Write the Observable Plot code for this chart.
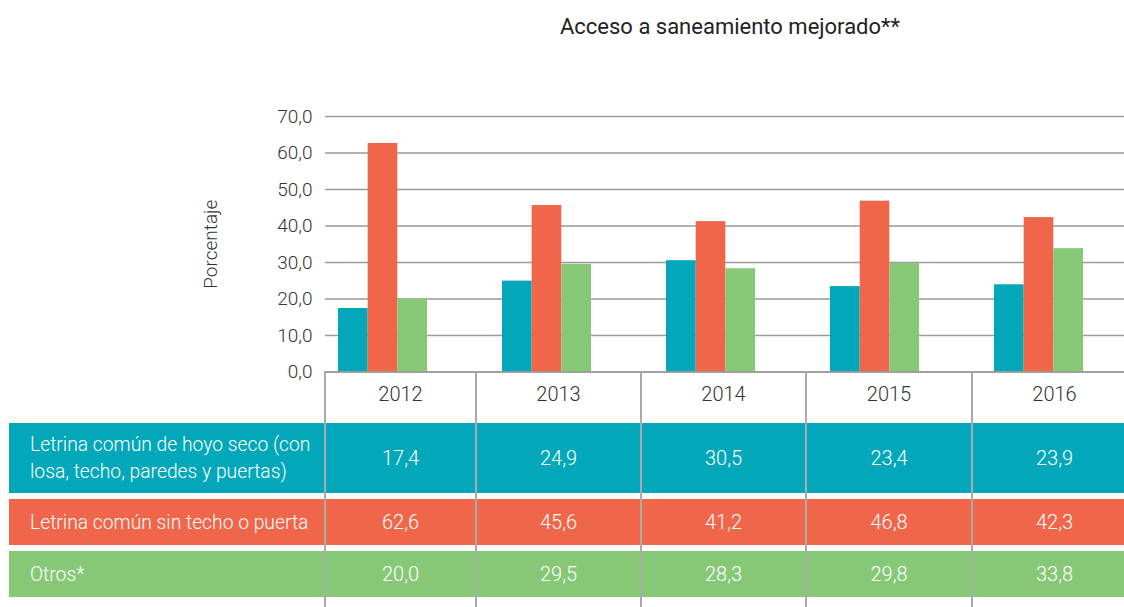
<!DOCTYPE html>
<html><head><meta charset="utf-8">
<script src="https://cdn.jsdelivr.net/npm/d3@7"></script>
<script src="https://cdn.jsdelivr.net/npm/@observablehq/plot@0.6"></script>
<style>
body{margin:0;background:#fff;font-family:Roboto,"Noto Sans",sans-serif;}
#wrap{position:relative;width:1124px;height:607px;overflow:hidden;background:#fff;}
#title{position:absolute;left:0;top:14px;width:1460px;text-align:center;font-size:22px;color:#222;font-weight:400;}
#chart{position:absolute;left:0;top:0;}
.row{position:absolute;left:9px;width:1140px;}
.lab{position:absolute;left:21px;color:#fff;font-size:19.3px;font-weight:300;line-height:27px;}
.val{position:absolute;color:#fff;font-size:20px;font-weight:300;text-align:center;}
.yr{position:absolute;color:#333;font-size:20px;font-weight:300;text-align:center;}
.vl{position:absolute;width:1.5px;background:#aaa;top:371px;height:240px;}
</style>
</head><body>
<div id="wrap">
  <div id="title">Acceso a saneamiento mejorado**</div>
  <div id="chart"></div>
  <div id="table"></div>
</div>
<script>
const years = ["2012","2013","2014","2015","2016"];
const seriesNames = ["Letrina común de hoyo seco (con<br>losa, techo, paredes y puertas)", "Letrina común sin techo o puerta", "Otros*"];
const hoyoSeco = [17.4, 24.9, 30.5, 23.4, 23.9];
const sinTecho = [62.6, 45.6, 41.2, 46.8, 42.3];
const otros = [20.0, 29.5, 28.3, 29.8, 33.8];
const yTicks = [0, 10, 20, 30, 40, 50, 60, 70];
const colors = ["#02a7b9", "#f0664a", "#87c877"];

const seriesValues = [hoyoSeco, sinTecho, otros];
const fmt = d => d.toFixed(1).replace(".", ",");
const rows = seriesValues.map(vals => years.map((year, i) => ({year, value: vals[i]})));

const barW = 89 / 3;
const chart = Plot.plot({
  width: 1124, height: 400,
  marginTop: 116, marginBottom: 28.5, marginLeft: 325, marginRight: 0,
  style: {fontFamily: "Roboto, sans-serif", background: "transparent"},
  x: {domain: years, range: [300, 1121], paddingInner: 0.458, paddingOuter: 0.229, axis: null},
  y: {domain: [0, 70], axis: null},
  marks: [
    Plot.gridY(yTicks, {stroke: "#9a9a9a", strokeOpacity: 1, strokeWidth: 1.4}),
    Plot.axisY(yTicks, {tickSize: 0, tickPadding: 13, tickFormat: fmt, fontSize: 19, fill: "#333", fontWeight: 300,
      label: "Porcentaje", labelAnchor: "center", labelArrow: "none", labelOffset: 122}),
    ...rows.map((data, k) => Plot.barY(data, {
      x: "year", y: "value", fill: colors[k],
      insetLeft: k * barW, insetRight: (2 - k) * barW
    })),
    Plot.ruleY([0], {stroke: "#9a9a9a", strokeWidth: 1.4})
  ]
});
document.getElementById("chart").appendChild(chart);

// table
const colEdges = [325, 476, 641, 806, 972, 1137];
const rowBoxes = [[423, 70], [499, 46], [551, 46]];
const tbl = document.getElementById("table");
let html = "";
years.forEach((y, i) => {
  html += `<div class="yr" style="left:${colEdges[i]}px;width:${colEdges[i+1]-colEdges[i]}px;top:382px">${y}</div>`;
});
rowBoxes.forEach(([top, h], k) => {
  html += `<div class="row" style="top:${top}px;height:${h}px;background:${colors[k]}"></div>`;
  const nLines = k === 0 ? 2 : 1;
  html += `<div class="lab" style="top:${top + h/2 - nLines*13.5}px;left:30px">${seriesNames[k]}</div>`;
  seriesValues[k].forEach((v, i) => {
    html += `<div class="val" style="left:${colEdges[i]}px;width:${colEdges[i+1]-colEdges[i]}px;top:${top + h/2 - 13.5}px;line-height:27px">${fmt(v)}</div>`;
  });
});
colEdges.slice(0, 5).forEach(x => { html += `<div class="vl" style="left:${x - 0.75}px"></div>`; });
tbl.innerHTML = html;
</script>
</body></html>
